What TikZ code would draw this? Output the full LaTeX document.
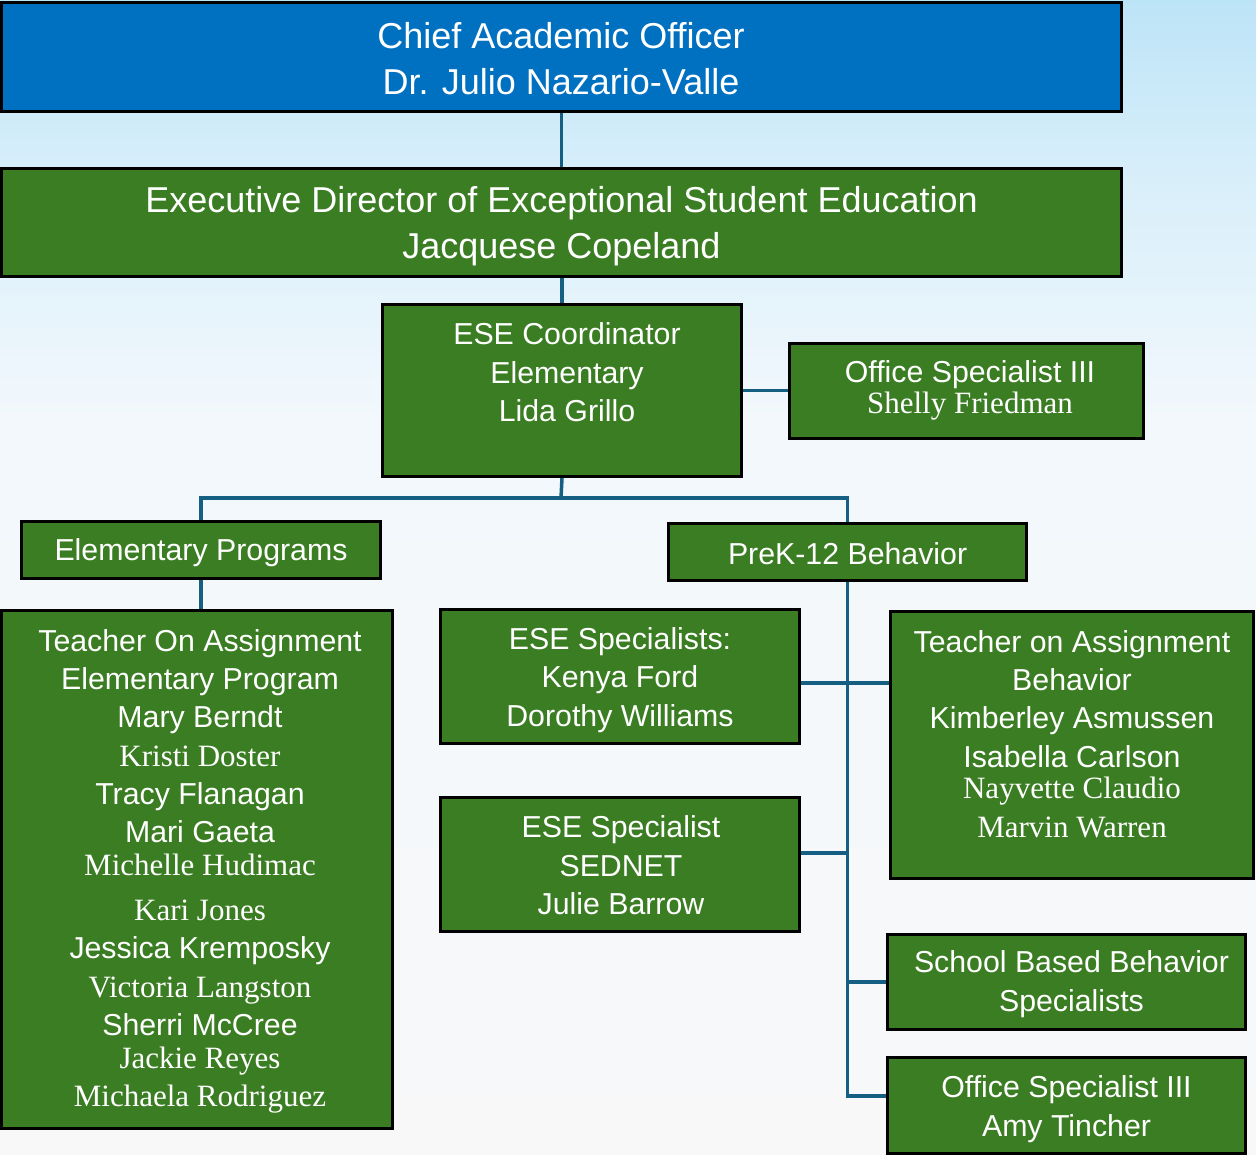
\documentclass[tikz,border=0pt]{standalone}
\usepackage{fontspec}
\setmainfont{Liberation Serif}
\newfontfamily\sanf{Liberation Sans}
\newfontfamily\serf{Liberation Serif}
\usepackage{tikz}
\definecolor{caoblue}{RGB}{0,112,192}
\definecolor{esegreen}{RGB}{59,125,35}
\definecolor{linkblue}{RGB}{21,96,130}
\definecolor{bgtop}{RGB}{188,228,247}
\definecolor{bgup}{RGB}{214,238,250}
\definecolor{bgmid}{RGB}{242,248,252}
\definecolor{bgbot}{RGB}{248,248,249}
\pgfdeclareverticalshading{bgshade}{100bp}{color(0bp)=(bgbot); color(25bp)=(bgbot); color(57bp)=(bgmid); color(68bp)=(bgup); color(75bp)=(bgtop); color(100bp)=(bgtop)}
\newcommand{\sr}[1]{{\serf\fontsize{31}{38.3}\selectfont #1}}

\begin{document}
\begin{tikzpicture}[x=1pt,y=-1pt,
  orgbox/.style={draw=black,line width=3pt,fill=esegreen,inner sep=0pt},
  lbl/.style={text=white,align=center,inner sep=0pt,anchor=north,font=\sanf\fontsize{30.3}{38.3}\selectfont},
  big/.style={font=\sanf\fontsize{36}{45.5}\selectfont},
  link/.style={draw=linkblue,line width=3.5pt}]
% Background
\useasboundingbox (0,0) rectangle (1256,1155);
\fill[shading=bgshade] (0,0) rectangle (1256,1155);
% Top of the chart
\node[orgbox,fill=caoblue,minimum width=1120pt,minimum height=109pt] (cao) at (561.5,57) {};
\node[lbl,big] (caotxt) at (561,22.5) {Chief Academic Officer\\Dr. Julio Nazario-Valle};
\node[orgbox,minimum width=1120pt,minimum height=108pt] (exec) at (561.5,222.5) {};
\node[lbl,big] (exectxt) at (561.5,186.3) {Executive Director of Exceptional Student Education\\Jacquese Copeland};
\node[orgbox,minimum width=359pt,minimum height=172pt] (coord) at (562,390.5) {};
\node[lbl] (coordtxt) at (567,322.6) {ESE Coordinator\\Elementary\\Lida Grillo};
\node[orgbox,minimum width=354pt,minimum height=95pt] (shelly) at (966.5,391) {};
\node[lbl] (shellytxt) at (970,360.3) {Office Specialist III\\[-7pt]\sr{Shelly Friedman}};
% Second level
\node[orgbox,minimum width=359pt,minimum height=57pt] (elem) at (201,550) {};
\node[lbl] (elemtxt) at (201,538.1) {Elementary Programs};
\node[orgbox,minimum width=358pt,minimum height=57pt] (prek) at (847.5,552) {};
\node[lbl] (prektxt) at (847.6,541.9) {PreK-12 Behavior};
% Elementary side
\node[orgbox,minimum width=391pt,minimum height=518pt] (toael) at (197,869.5) {};
\node[lbl] (toaeltxt) at (200,629.2) {Teacher On Assignment\\Elementary Program\\Mary Berndt\\\sr{Kristi Doster}\\Tracy Flanagan\\Mari Gaeta\\[-5.7pt]\sr{Michelle Hudimac}\\[6.8pt]\sr{Kari Jones}\\Jessica Kremposky\\\sr{Victoria Langston}\\Sherri McCree\\[-5.4pt]\sr{Jackie Reyes}\\\sr{Michaela Rodriguez}};
% Behavior side
\node[orgbox,minimum width=359pt,minimum height=134pt] (spec) at (620,676.5) {};
\node[lbl] (spectxt) at (620,627.3) {ESE Specialists:\\Kenya Ford\\Dorothy Williams};
\node[orgbox,minimum width=359pt,minimum height=134pt] (sednet) at (620,864.5) {};
\node[lbl] (sednettxt) at (621,815.8) {ESE Specialist\\SEDNET\\Julie Barrow};
\node[orgbox,minimum width=363pt,minimum height=267pt] (toabeh) at (1072,745) {};
\node[lbl] (toabehtxt) at (1072,630) {Teacher on Assignment\\Behavior\\Kimberley Asmussen\\Isabella Carlson\\[-7pt]\sr{Nayvette Claudio}\\[1pt]\sr{Marvin Warren}};
\node[orgbox,minimum width=358pt,minimum height=95pt] (sbbs) at (1066.5,982) {};
\node[lbl] (sbbstxt) at (1071.5,950.6) {School Based Behavior\\Specialists};
\node[orgbox,minimum width=358pt,minimum height=96pt] (amy) at (1066.5,1105.5) {};
\node[lbl] (amytxt) at (1066.5,1075.6) {Office Specialist III\\Amy Tincher};
% Connectors
\coordinate (split) at (561,498);
\draw[link] (cao) -- (exec);
\draw[link] (exec.south -| coord.north) -- (coord.north);
\draw[link] (coord.east) -- (coord.east -| shelly.west);
\draw[link] (coord.south) -- (split);
\draw[link] (elem.north) |- (split) -| (prek.north);
\draw[link] (elem.south) -- (elem.south |- toael.north);
\draw[link] (prek.south) |- ([yshift=9.5pt]amy.west);
\draw[link] ([yshift=-6.5pt]spec.east) -- ([yshift=-6.5pt]spec.east -| toabeh.west);
\draw[link] ([yshift=11.5pt]sednet.east) -- ([yshift=11.5pt]sednet.east -| prek.south);
\draw[link] (sbbs.west) -- (sbbs.west -| prek.south);
\end{tikzpicture}
\end{document}
